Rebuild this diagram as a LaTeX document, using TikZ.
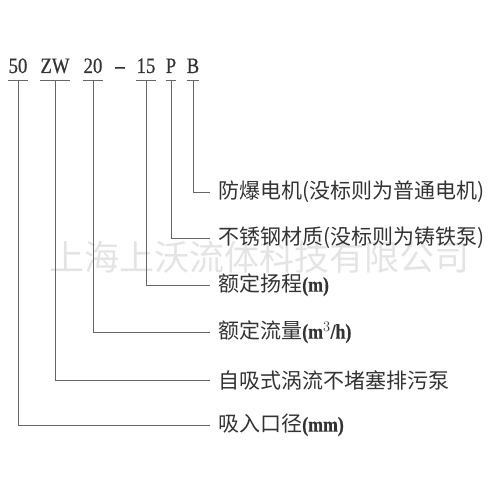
\documentclass[tikz,border=0pt]{standalone}
\usepackage{fontspec}
\setmainfont{Noto Sans CJK SC}
\newfontfamily\codefont[FakeStretch=0.85,FakeBold=0.6]{Liberation Serif}
\definecolor{ink}{HTML}{333333}
\definecolor{wire}{HTML}{666666}
\definecolor{mark}{HTML}{E4E4E4}

\begin{document}
\begin{tikzpicture}[x=1pt, y=-1pt,
  code/.style={font=\codefont\fontsize{22}{22}\selectfont, text=ink, inner sep=0pt, anchor=base},
  desc/.style={font=\fontsize{21}{21}\selectfont, text=ink, anchor=west, inner xsep=8pt, inner ysep=0pt},
  lead/.style={draw=wire, line width=1pt}]

\useasboundingbox (0,0) rectangle (500,500);

% watermark
\node[text=mark, font=\fontsize{35}{35}\selectfont, inner sep=0pt] (wm) at (259,257) {上海上沃流体科技有限公司};

% model code
\node[code] (c50) at (18,73) {50};
\node[code] (cZW) at (55,73) {ZW};
\node[code] (c20) at (93,73) {20};
\node[code] (cdash) at (120,73) {\bfseries –};
\node[code] (c15) at (146,73) {15};
\node[code] (cP) at (171,73) {P};
\node[code] (cB) at (193,73) {B};

% meanings
\node[desc] (dB) at (210,192) {防爆电机(没标则为普通电机)};
\node[desc] (dP) at (210,238) {不锈钢材质(没标则为铸铁泵)};
\node[desc] (d15) at (210,285) {额定扬程{\codefont\bfseries(m)}};
\node[desc] (d20) at (210,332) {额定流量{\codefont\bfseries(m$^3$/h)}};
\node[desc] (dZW) at (210,380) {自吸式涡流不堵塞排污泵};
\node[desc] (d50) at (210,425) {吸入口径{\codefont\bfseries(mm)}};

\foreach \c in {50,ZW,20,15,P,B}
{
\draw[lead] ([yshift=-8pt]c\c.base west) -- ([yshift=-8pt]c\c.base east);
\draw[lead] ([yshift=-8pt]c\c.base) |- (d\c.west);
}

\end{tikzpicture}
\end{document}
